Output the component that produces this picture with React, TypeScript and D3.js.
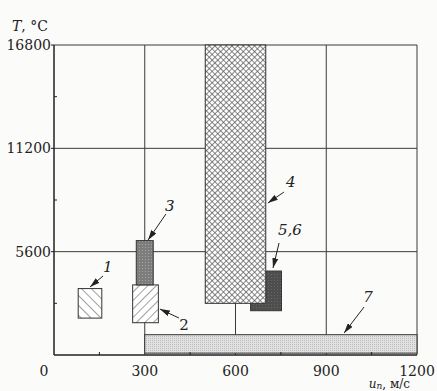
import React from 'react';
import * as d3 from 'd3';

// velocity u_п (m/s) ranges and temperature T (°C) ranges for each region
const regionIds = ['5,6', '4', '1', '2', '3', '7'];
const uFrom = [650, 500, 80, 260, 272, 300];
const uTo = [752, 700, 158, 345, 328, 1200];
const tFrom = [2400, 2800, 2000, 1750, 3800, 100];
const tTo = [4550, 16800, 3600, 3800, 6200, 1100];
const fills = ['url(#dark)', 'url(#cross)', 'url(#hatchB)', 'url(#hatchF)', 'url(#speck)', 'url(#fine)'];

const xTicks = [0, 300, 600, 900, 1200];
const yTicks = [5600, 11200, 16800];
const xMinor = [150, 450, 750, 1050];
const yMinor = [2800, 8400, 14000];

// callout labels: text anchor, arrow tail, arrow tip (data units)
const noteText = ['1', '2', '3', '4', '5,6', '7'];
const noteAt = [[178, 4500], [430, 1355], [383, 7800], [783, 9100], [780, 6500], [1038, 2870]];
const noteTail = [[162, 4280], [413, 2005], [370, 7640], [760, 8830], [744, 6070], [1025, 2600]];
const noteTip = [[119, 3685], [350, 2490], [311, 6232], [707, 8237], [724, 4715], [959, 1192]];
const noteItalic = [true, false, true, true, true, true];

const W = 437;
const H = 391;
const m = { left: 54, right: 20, top: 45, bottom: 36 };

export default function App() {
  const x = d3.scaleLinear().domain([0, 1200]).range([m.left, W - m.right]);
  const y = d3.scaleLinear().domain([0, 16800]).range([H - m.bottom, m.top]);
  const font = '"DejaVu Serif", serif';

  return (
    <svg width={W} height={H} style={{ position: 'absolute', left: 0, top: 0, background: '#fbfbf9' }}>
      <defs>
        <pattern id="hatchB" width="7" height="7" patternUnits="userSpaceOnUse" patternTransform="rotate(-45)">
          <rect width="7" height="7" fill="#fff" />
          <line x1="0" y1="0" x2="0" y2="7" stroke="#444" strokeWidth="1" />
        </pattern>
        <pattern id="hatchF" width="6" height="6" patternUnits="userSpaceOnUse" patternTransform="rotate(45)">
          <rect width="6" height="6" fill="#fff" />
          <line x1="0" y1="0" x2="0" y2="6" stroke="#444" strokeWidth="1" />
        </pattern>
        <pattern id="cross" width="4" height="4" patternUnits="userSpaceOnUse" patternTransform="rotate(45)">
          <rect width="4" height="4" fill="#fff" />
          <line x1="0" y1="0" x2="0" y2="4" stroke="#555" strokeWidth="1.4" />
          <line x1="0" y1="0" x2="4" y2="0" stroke="#555" strokeWidth="1.4" />
        </pattern>
        <pattern id="speck" width="3" height="3" patternUnits="userSpaceOnUse">
          <rect width="3" height="3" fill="#7d7d7d" />
          <rect x="1" y="1" width="1" height="1" fill="#a5a5a5" />
        </pattern>
        <pattern id="dark" width="3" height="3" patternUnits="userSpaceOnUse">
          <rect width="3" height="3" fill="#4e4e4e" />
          <rect x="1" y="1" width="1" height="1" fill="#666" />
        </pattern>
        <pattern id="fine" width="2" height="2" patternUnits="userSpaceOnUse">
          <rect width="2" height="2" fill="#e2e2e2" />
          <rect width="1" height="1" fill="#bdbdbd" />
        </pattern>
        <marker id="tip" viewBox="0 0 10 6" refX="10" refY="3" markerWidth="10" markerHeight="6" markerUnits="userSpaceOnUse" orient="auto">
          <path d="M0,0 L10,3 L0,6 Z" fill="#222" />
        </marker>
      </defs>

      {/* grid */}
      {yTicks.map(t => (
        <line key={'gy' + t} x1={x(0)} x2={x(1200)} y1={y(t)} y2={y(t)} stroke="#3a3a3a" strokeWidth={1} />
      ))}
      {xTicks.slice(1).map(t => (
        <line key={'gx' + t} x1={x(t)} x2={x(t)} y1={y(0)} y2={y(16800)} stroke="#3a3a3a" strokeWidth={1} />
      ))}

      {/* regions */}
      {regionIds.map((id, i) => (
        <rect
          key={id}
          x={x(uFrom[i])}
          y={y(tTo[i])}
          width={x(uTo[i]) - x(uFrom[i])}
          height={y(tFrom[i]) - y(tTo[i])}
          fill={fills[i]}
          stroke="#333"
          strokeWidth={1}
        />
      ))}

      {/* axes */}
      <line x1={x(0)} x2={x(1200)} y1={y(0)} y2={y(0)} stroke="#222" strokeWidth={1.5} />
      <line x1={x(0)} x2={x(0)} y1={y(0)} y2={y(16800)} stroke="#222" strokeWidth={1.5} />
      {yMinor.map(t => (
        <line key={'my' + t} x1={x(0)} x2={x(0) + 3} y1={y(t)} y2={y(t)} stroke="#222" />
      ))}
      {xMinor.map(t => (
        <line key={'mx' + t} x1={x(t)} x2={x(t)} y1={y(0)} y2={y(0) - 3} stroke="#222" />
      ))}
      {yTicks.map(t => (
        <line key={'ty' + t} x1={x(0) - 3} x2={x(0)} y1={y(t)} y2={y(t)} stroke="#222" />
      ))}

      {/* tick labels */}
      {yTicks.map(t => (
        <text key={'ly' + t} x={x(0) - 3} y={y(t) + 5} textAnchor="end" fontFamily={font} fontSize={14} fill="#222">
          {t}
        </text>
      ))}
      {xTicks.map(t => (
        <text key={'lx' + t} x={t === 0 ? x(0) - 10 : x(t)} y={y(0) + 21} textAnchor="middle" fontFamily={font} fontSize={14} fill="#222">
          {t}
        </text>
      ))}

      {/* axis titles */}
      <text x={12} y={31} fontFamily={font} fontSize={14} fill="#222">
        <tspan fontStyle="italic">T</tspan>, °C
      </text>
      <text x={x(1200) - 7} y={y(0) + 33} textAnchor="end" fontFamily={font} fontSize={12} fill="#222">
        <tspan fontStyle="italic">u</tspan>
        <tspan fontSize={9} dy={1} fontStyle="italic">п</tspan>
        <tspan dy={-1}>, м/с</tspan>
      </text>

      {/* callouts */}
      {noteText.map((s, i) => (
        <g key={'n' + s}>
          <line
            x1={x(noteTail[i][0])}
            y1={y(noteTail[i][1])}
            x2={x(noteTip[i][0])}
            y2={y(noteTip[i][1])}
            stroke="#222"
            strokeWidth={1}
            markerEnd="url(#tip)"
          />
          <text
            x={x(noteAt[i][0])}
            y={y(noteAt[i][1])}
            textAnchor="middle"
            fontFamily={font}
            fontSize={15}
            fontStyle={noteItalic[i] ? 'italic' : 'normal'}
            fill="#222"
          >
            {s}
          </text>
        </g>
      ))}
    </svg>
  );
}
